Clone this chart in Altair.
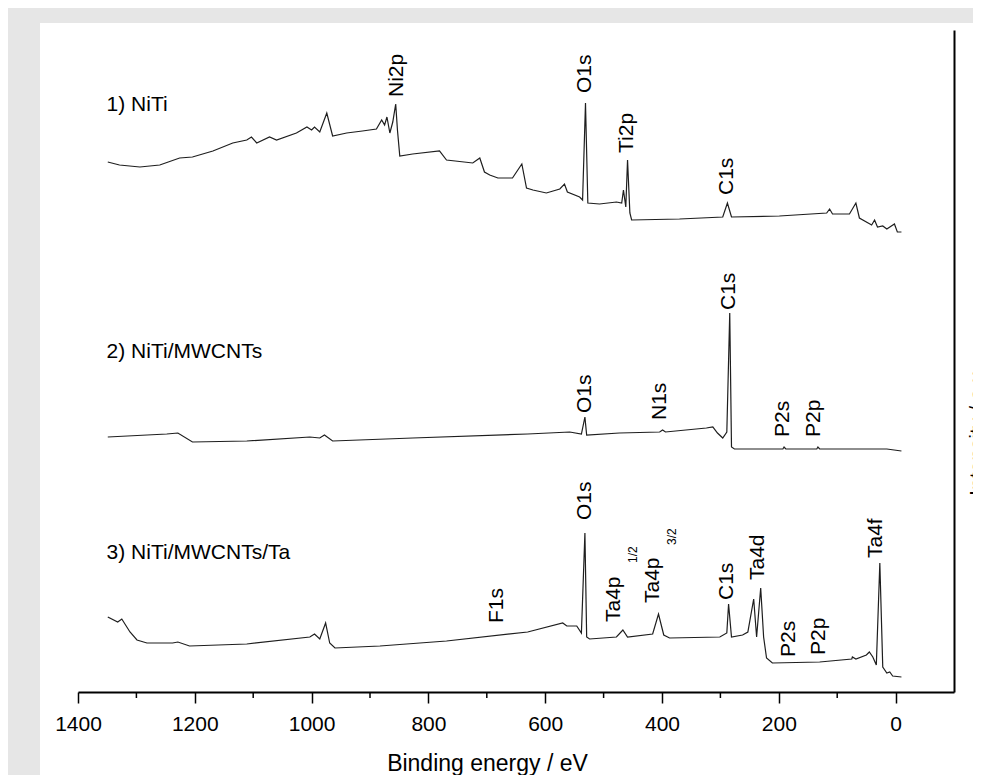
import altair as alt
import pandas as pd

# ---- spectrum 1: NiTi (binding energy eV, offset intensity a.u.)
s1_energy = [1349, 1329, 1294, 1260, 1226, 1204, 1169, 1135, 1111, 1103, 1094, 1072, 1060, 1026,
             1008, 1000, 995, 986, 974, 964, 940, 913, 889, 880, 875, 871, 866, 861, 856, 853,
             849, 827, 781, 769, 724, 712, 704, 695, 681, 656, 640, 632, 621, 598, 575, 567, 562,
             541, 536, 531, 527, 507, 478, 469, 466, 462, 459, 455, 452, 370, 296, 288, 281, 199,
             118, 113, 108, 79, 68, 62, 41, 36, 31, 22, 15, 2, -3, -10]
s1_intensity = [530, 527, 525, 527, 534, 535, 541, 549, 552, 555, 549, 555, 552, 559,
                565, 562, 565, 560, 579, 556, 559, 561, 563, 572, 567, 575, 559, 570, 588, 562,
                536, 538, 541, 532, 529, 534, 520, 517, 514, 514, 528, 504, 502, 499, 503, 508, 500,
                495, 492, 589, 489, 488, 490, 489, 502, 485, 532, 479, 472, 473, 475, 489, 475, 476,
                479, 483, 478, 478, 489, 474, 467, 472, 465, 466, 463, 468, 460, 460]

# ---- spectrum 2: NiTi/MWCNTs
s2_energy = [1349, 1248, 1229, 1204, 1111, 1003, 986, 978, 964, 827, 630, 558, 538, 532, 529,
             473, 404, 399, 394, 324, 313, 305, 296, 289, 284, 281, 276, 193, 191, 188, 135, 133,
             130, 15, -10]
s2_intensity = [255, 258, 259, 250, 251, 255, 254, 257, 251, 254, 258, 260, 258, 275, 257,
                259, 260, 262, 260, 264, 265, 259, 254, 260, 379, 245, 243, 243, 245, 243, 243, 245,
                243, 243, 241]

# ---- spectrum 3: NiTi/MWCNTs/Ta
s3_energy = [1349, 1332, 1325, 1311, 1299, 1282, 1238, 1229, 1209, 1111, 1003, 995, 986, 976, 969,
             960, 883, 769, 630, 570, 563, 546, 538, 532, 529, 524, 478, 467, 459, 416, 406, 397,
             387, 301, 289, 286, 281, 262, 253, 243, 238, 231, 226, 221, 211, 130, 75, 74, 68,
             50, 45, 39, 33, 27, 22, 15, 10, 5, -10]
s3_intensity = [75, 70, 73, 60, 52, 49, 49, 50, 46, 48, 55, 58, 53, 69, 49,
                44, 46, 51, 60, 69, 66, 66, 59, 159, 55, 53, 55, 62, 55, 58, 78, 57,
                54, 55, 59, 88, 55, 57, 60, 93, 55, 104, 55, 34, 29, 30, 33, 35, 33,
                37, 40, 35, 27, 129, 25, 19, 20, 16, 15]

sample_names = ["1) NiTi", "2) NiTi/MWCNTs", "3) NiTi/MWCNTs/Ta"]
sample_energy = [1351, 1351, 1351]
sample_intensity = [587, 340, 139]

peak_text = ["Ni2p", "O1s", "Ti2p", "C1s",
             "C1s", "O1s", "N1s", "P2s", "P2p",
             "O1s", "Ta4p ", "Ta4p ", "C1s", "Ta4d", "P2s", "P2p", "Ta4f", "F1s"]
peak_energy = [854, 531, 460, 289,
               286, 532, 404, 193, 139,
               531, 483, 416, 288, 235, 183, 132, 33, 683]
peak_intensity = [595, 599, 539, 497,
                  382, 279, 272, 255, 255,
                  172, 70, 89, 92, 112, 35, 37, 134, 69]

sub_text = ["1/2", "3/2"]
sub_energy = [450, 383]
sub_intensity = [129, 147]

major_ticks = [1400, 1200, 1000, 800, 600, 400, 200, 0]
minor_ticks = [1300, 1100, 900, 700, 500, 300, 100]

FONT = "Liberation Sans"
W, H = 876, 662

rows = []
for name, es, ys in zip(sample_names, [s1_energy, s2_energy, s3_energy],
                        [s1_intensity, s2_intensity, s3_intensity]):
    for i, (e, v) in enumerate(zip(es, ys)):
        rows.append({"sample": name, "idx": i, "energy": e, "intensity": v})
spec = pd.DataFrame(rows)

x_scale = alt.Scale(domain=[1400, -100], nice=False, zero=False)
y_scale = alt.Scale(domain=[0, H], nice=False, zero=False)

x_axis = alt.Axis(values=major_ticks, format="d", labelFontSize=21, labelColor="black",
                  labelPadding=10, labelFlush=False, labelOverlap=False,
                  tickSize=11, tickColor="black", tickWidth=1.5,
                  domainColor="black", domainWidth=2, grid=False, zindex=2,
                  title="Binding energy / eV", titleFontSize=23, titleFontWeight="normal",
                  titleColor="black", titleX=409, titleY=78, titleAlign="center",
                  titleBaseline="alphabetic")
y_axis = alt.Axis(orient="right", ticks=False, labels=False, domain=True,
                  domainColor="black", domainWidth=2, grid=False, zindex=2,
                  title="Intensity / a.u.", titleFontSize=21, titleFontWeight="normal",
                  titleColor="black", titleAngle=270, titleX=29, titleY=400,
                  titleAlign="center", titleBaseline="alphabetic")

x_enc = alt.X("energy:Q", scale=x_scale, axis=x_axis)
y_enc = alt.Y("intensity:Q", scale=y_scale, axis=y_axis)

panel = alt.Chart(pd.DataFrame({"a": [0]})).mark_rect(color="white").encode(
    x=alt.value(-38), x2=alt.value(960), y=alt.value(-7), y2=alt.value(800))

lines = alt.Chart(spec).mark_line(color="#1e1e1e", strokeWidth=1.2).encode(
    x=x_enc, y=y_enc, detail="sample:N", order="idx:Q")

minor = alt.Chart(pd.DataFrame({"energy": minor_ticks})).mark_rule(
    color="black", strokeWidth=1.5).encode(x=x_enc, y=alt.value(H), y2=alt.value(H + 6))

samples = alt.Chart(pd.DataFrame({"energy": sample_energy, "intensity": sample_intensity,
                                  "label": sample_names})).mark_text(
    align="left", baseline="middle", fontSize=21, font=FONT, color="black").encode(
    x=x_enc, y=y_enc, text="label:N")

peaks = alt.Chart(pd.DataFrame({"energy": peak_energy, "intensity": peak_intensity,
                                "label": peak_text})).mark_text(
    angle=270, align="left", baseline="middle", fontSize=21, font=FONT, color="black").encode(
    x=x_enc, y=y_enc, text="label:N")

subs = alt.Chart(pd.DataFrame({"energy": sub_energy, "intensity": sub_intensity,
                               "label": sub_text})).mark_text(
    angle=270, align="left", baseline="middle", fontSize=12, font=FONT, color="black").encode(
    x=x_enc, y=y_enc, text="label:N")

chart = alt.layer(panel, lines, minor, samples, peaks, subs).properties(
    width=W, height=H,
    autosize=alt.AutoSizeParams(type="none"),
    padding={"left": 70, "top": 22, "right": 19, "bottom": 83},
    background="#e6e6e6",
).configure_view(stroke="transparent").configure_axis(labelFont=FONT, titleFont=FONT)

chart.save("out.html", embed_options={"renderer": "svg", "actions": False})
